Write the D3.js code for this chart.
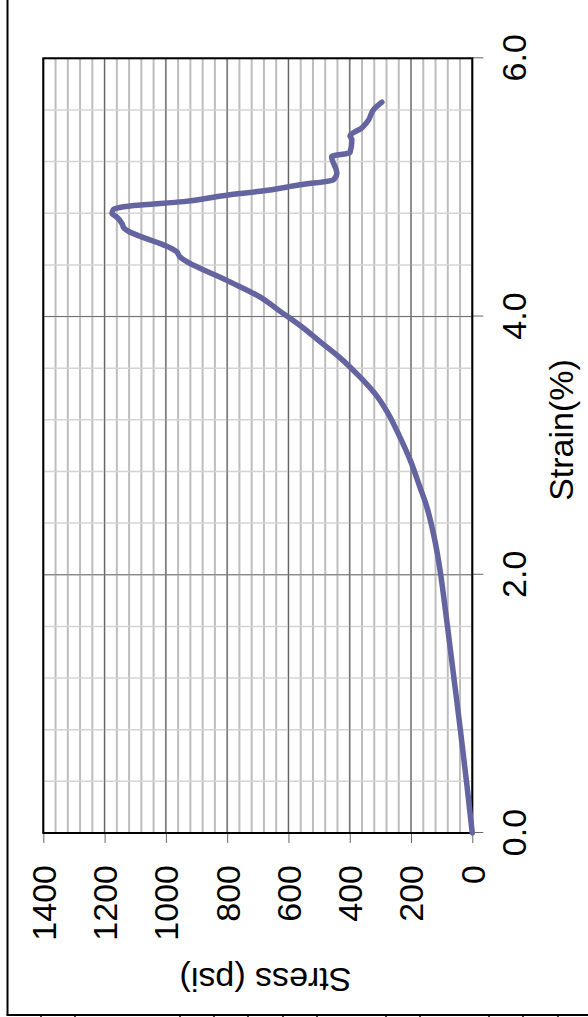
<!DOCTYPE html>
<html>
<head>
<meta charset="utf-8">
<script src="https://cdn.jsdelivr.net/npm/d3@7"></script>
<style>
  html, body { margin: 0; padding: 0; background: #fff; }
  svg { display: block; font-family: "Liberation Sans", Arial, sans-serif; }
</style>
</head>
<body>
<div id="chart"></div>
<script>
// strain (%) / stress (psi)
const strain = [0, 0.4, 0.8, 1.2, 1.6, 1.86, 2.0, 2.32, 2.53, 2.68, 2.89, 3.07, 3.25, 3.38, 3.53,
  3.69, 3.80, 3.93, 4.04, 4.15, 4.28, 4.45, 4.46, 4.50, 4.69, 4.72, 4.77, 4.80, 4.83, 4.84, 4.86,
  4.89, 4.94, 4.97, 5.02, 5.06, 5.11, 5.24, 5.27, 5.37, 5.40, 5.46, 5.52, 5.60, 5.66];
const stress = [0, 19, 39, 60, 81, 95, 103, 127, 149, 171, 203, 237, 275, 310, 366,
  436, 494, 562, 627, 692, 801, 948, 953, 964, 1138, 1143, 1160, 1176, 1171, 1160, 1105,
  942, 801, 692, 562, 453, 442, 459, 399, 393, 399, 361, 339, 323, 295];

const stressTicks = [0, 200, 400, 600, 800, 1000, 1200, 1400];
const strainTicks = [0, 2, 4, 6];
const stressMinor = d3.range(0, 1401, 40);
const strainMinor = d3.range(0, 6.001, 0.4);
// little marks of whatever sits under the frame (screen x)
const frameMarks = [41, 75, 180, 214, 248, 283, 317, 386, 420, 489, 523, 558];

const W = 588, H = 1017;
const svg = d3.select("#chart").append("svg").attr("width", W).attr("height", H);

// chart is drawn in its own landscape frame then turned a quarter left
const g = svg.append("g").attr("transform", `translate(0,${H}) rotate(-90)`);

const x = d3.scaleLinear().domain([0, 6]).range([184, 958.7]);
const y = d3.scaleLinear().domain([0, 1400]).range([472.3, 43.3]);

// minor grid
g.append("g").selectAll("line").data(stressMinor).enter().append("line")
  .attr("x1", x(0)).attr("x2", x(6)).attr("y1", d => y(d)).attr("y2", d => y(d))
  .attr("stroke", "#bdbdbd").attr("stroke-width", 2);
g.append("g").selectAll("line").data(strainMinor).enter().append("line")
  .attr("y1", y(0)).attr("y2", y(1400)).attr("x1", d => x(d)).attr("x2", d => x(d))
  .attr("stroke", "#d4d4d4").attr("stroke-width", 1.5);

// major grid
g.append("g").selectAll("line").data(stressTicks).enter().append("line")
  .attr("x1", x(0)).attr("x2", x(6)).attr("y1", d => y(d)).attr("y2", d => y(d))
  .attr("stroke", "#606060").attr("stroke-width", 1);
g.append("g").selectAll("line").data(strainTicks).enter().append("line")
  .attr("y1", y(0)).attr("y2", y(1400)).attr("x1", d => x(d)).attr("x2", d => x(d))
  .attr("stroke", "#707070").attr("stroke-width", 1);

// axes (ticks only, labels set below)
const yAxis = g.append("g").attr("transform", `translate(${x(0)},0)`)
  .call(d3.axisLeft(y).tickValues(stressTicks).tickSize(10).tickSizeOuter(0).tickFormat(d3.format("d")));
yAxis.select(".domain").remove();
yAxis.selectAll(".tick line").attr("stroke", "#666");
yAxis.selectAll(".tick text")
  .attr("x", -32).attr("dy", "0.35em")
  .style("font-size", "34px").style("fill", "#000")
  .attr("font-family", null);

const xAxis = g.append("g").attr("transform", `translate(0,${y(0)})`)
  .call(d3.axisBottom(x).tickValues(strainTicks).tickSize(11).tickSizeOuter(0).tickFormat(d3.format(".1f")));
xAxis.select(".domain").remove();
xAxis.selectAll(".tick line").attr("stroke", "#666");
xAxis.selectAll(".tick text")
  .attr("y", 54).attr("dy", null)
  .style("font-size", "34px").style("fill", "#000")
  .attr("font-family", null);

// plot border
g.append("rect")
  .attr("x", x(0)).attr("y", y(1400))
  .attr("width", x(6) - x(0)).attr("height", y(0) - y(1400))
  .attr("fill", "none").attr("stroke", "#000").attr("stroke-width", 2);

// curve
const line = d3.line()
  .x((d, i) => x(strain[i]))
  .y((d, i) => y(stress[i]))
  .curve(d3.curveMonotoneX);
g.append("path").datum(stress)
  .attr("d", line)
  .attr("fill", "none")
  .attr("stroke", "#6464a0")
  .attr("stroke-width", 5.5)
  .attr("stroke-linejoin", "round")
  .attr("stroke-linecap", "round");

// axis titles
g.append("text")
  .attr("x", 587).attr("y", 573)
  .attr("text-anchor", "middle")
  .style("font-size", "34px")
  .text("Strain(%)");

g.append("text")
  .attr("transform", `translate(49,${265.5}) rotate(-90)`)
  .attr("text-anchor", "middle")
  .style("font-size", "34px")
  .text("Stress (psi)");

// outer frame, drawn straight on the page
svg.append("line").attr("x1", 7.5).attr("x2", 7.5).attr("y1", 0).attr("y2", 1015)
  .attr("stroke", "#000").attr("stroke-width", 2);
svg.append("line").attr("x1", 6.5).attr("x2", W).attr("y1", 1015).attr("y2", 1015)
  .attr("stroke", "#000").attr("stroke-width", 2);
svg.append("g").selectAll("line").data(frameMarks).enter().append("line")
  .attr("x1", d => d).attr("x2", d => d).attr("y1", 1015).attr("y2", H)
  .attr("stroke", "#000").attr("stroke-width", 1.5);
</script>
</body>
</html>
